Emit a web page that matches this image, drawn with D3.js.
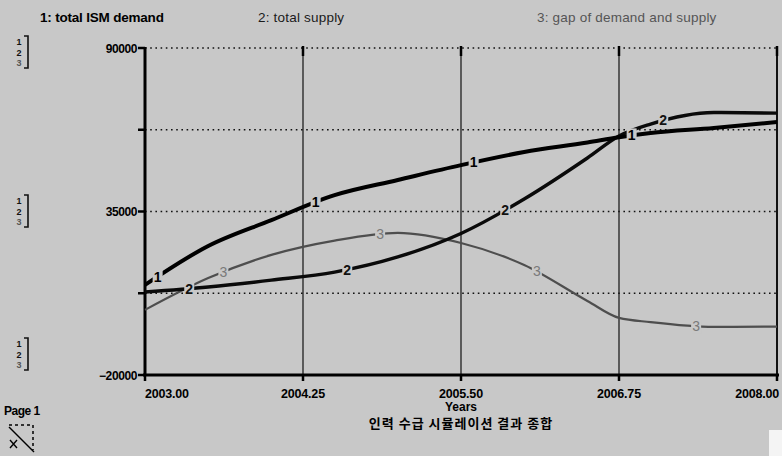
<!DOCTYPE html>
<html lang="en">
<head>
    <meta charset="UTF-8">
    <title>ISM demand and supply</title>
    <script src="https://d3js.org/d3.v7.min.js"></script>
    <style>
        body {
            margin: 0;
            background-color: #c8c8c8;
        }
        svg {
            display: block;
            font-family: "Liberation Sans", Arial, sans-serif;
        }
    </style>
</head>
<body>
    <svg id="chart" width="782" height="456"></svg>

    <script>
        // values
        const years = [2003, 2003.5, 2004, 2004.5, 2005, 2005.5, 2006, 2006.5, 2006.75, 2007, 2007.5, 2008];
        const demand = [10300, 23400, 32100, 40500, 45600, 50600, 55000, 58200, 60000, 61400, 63100, 65100];
        const supply = [7900, 9600, 11900, 14600, 19700, 27600, 39200, 53000, 60400, 64400, 68300, 68100];
        const gap = [1900, 12600, 20400, 25200, 27800, 24400, 17000, 4900, -800, -2200, -3800, -3700];

        const seriesNames = ["1: total ISM  demand", "2: total supply", "3: gap of demand and supply"];
        const xTicks = [2003, 2004.25, 2005.5, 2006.75, 2008];
        const yLabelTicks = [90000, 35000, -20000];
        const yGridTicks = [90000, 62500, 35000, 7500];
        // where the little series numbers sit along each line
        const labelYears = [
            [2003.1, 2004.35, 2005.6, 2006.85],
            [2003.35, 2004.6, 2005.85, 2007.1],
            [2003.62, 2004.86, 2006.1, 2007.36]
        ];

        const bg = "#c8c8c8";
        const svg = d3.select("#chart");
        svg.append("rect").attr("width", 782).attr("height", 456).attr("fill", bg);

        const x = d3.scaleLinear().domain([2003, 2008]).range([145, 777]);
        const y = d3.scaleLinear().domain([-20000, 90000]).range([375, 48]);

        // header
        const headX = [40, 258, 537];
        const headCol = ["#000", "#1a1a1a", "#555"];
        svg.selectAll(".head")
            .data(seriesNames)
            .enter()
            .append("text")
            .attr("x", (d, i) => headX[i])
            .attr("y", 22)
            .attr("font-size", 13.5)
            .attr("font-weight", (d, i) => i === 0 ? "bold" : "normal")
            .attr("letter-spacing", (d, i) => i === 0 ? -0.2 : 0.2)
            .attr("fill", (d, i) => headCol[i])
            .text(d => d);

        // scale brackets at the left
        [48, 207, 350].forEach(cy => {
            const g = svg.append("g").attr("transform", `translate(0,${cy})`);
            ["1", "2", "3"].forEach((n, k) => {
                g.append("text")
                    .attr("x", 19).attr("y", -7 + k * 10.5 + 4)
                    .attr("text-anchor", "middle")
                    .attr("font-size", 9).attr("font-weight", "bold")
                    .attr("fill", k === 2 ? "#555" : "#111")
                    .text(n);
            });
            g.append("path")
                .attr("d", "M24,-12 H28 V20 H24")
                .attr("fill", "none").attr("stroke", "#111").attr("stroke-width", 1.6);
        });

        // dotted horizontal grid
        svg.selectAll(".hgrid")
            .data(yGridTicks)
            .enter()
            .append("line")
            .attr("x1", x(2003)).attr("x2", x(2008))
            .attr("y1", d => y(d)).attr("y2", d => y(d))
            .attr("stroke", "#111").attr("stroke-width", 1.6)
            .attr("stroke-dasharray", "1.6,3.6");

        // vertical grid lines
        svg.selectAll(".vgrid")
            .data(xTicks.slice(1))
            .enter()
            .append("line")
            .attr("x1", d => x(d)).attr("x2", d => x(d))
            .attr("y1", y(90000)).attr("y2", y(-20000))
            .attr("stroke", "#111")
            .attr("stroke-width", d => d === 2008 ? 2 : 1.2);
        svg.selectAll(".vtop")
            .data(xTicks.slice(1))
            .enter()
            .append("line")
            .attr("x1", d => x(d)).attr("x2", d => x(d))
            .attr("y1", y(90000) - 2).attr("y2", y(90000) + 8)
            .attr("stroke", "#000").attr("stroke-width", 2.5);

        // axes
        svg.append("line")
            .attr("x1", x(2003)).attr("x2", x(2003))
            .attr("y1", y(90000) - 1).attr("y2", y(-20000) + 1)
            .attr("stroke", "#000").attr("stroke-width", 3);
        svg.append("line")
            .attr("x1", x(2003) - 2).attr("x2", x(2008) + 2)
            .attr("y1", y(-20000)).attr("y2", y(-20000))
            .attr("stroke", "#000").attr("stroke-width", 3);

        svg.selectAll(".ytick")
            .data([90000, 62500, 35000, 7500, -20000])
            .enter()
            .append("line")
            .attr("x1", x(2003) - 7).attr("x2", x(2003))
            .attr("y1", d => y(d)).attr("y2", d => y(d))
            .attr("stroke", "#000").attr("stroke-width", 2.5);
        svg.selectAll(".xtick")
            .data(xTicks)
            .enter()
            .append("line")
            .attr("x1", d => x(d)).attr("x2", d => x(d))
            .attr("y1", y(-20000)).attr("y2", y(-20000) + 6)
            .attr("stroke", "#000").attr("stroke-width", 2.5);

        svg.selectAll(".ylab")
            .data(yLabelTicks)
            .enter()
            .append("text")
            .attr("x", 137)
            .attr("y", d => y(d) + 4.5)
            .attr("text-anchor", "end")
            .attr("font-size", 12).attr("font-weight", "bold")
            .attr("letter-spacing", -0.4)
            .text(d => d3.format("d")(d));

        svg.selectAll(".xlab")
            .data(xTicks)
            .enter()
            .append("text")
            .attr("x", (d, i) => i === 0 ? x(d) : i === xTicks.length - 1 ? x(d) + 2 : x(d))
            .attr("y", 398)
            .attr("text-anchor", (d, i) => i === 0 ? "start" : i === xTicks.length - 1 ? "end" : "middle")
            .attr("font-size", 12.5).attr("font-weight", "bold")
            .attr("letter-spacing", -0.2)
            .text(d => d.toFixed(2));

        svg.append("text")
            .attr("x", x(2005.5)).attr("y", 411)
            .attr("text-anchor", "middle")
            .attr("font-size", 12).attr("font-weight", "bold")
            .text("Years");
        svg.append("text")
            .attr("x", x(2005.5)).attr("y", 428)
            .attr("text-anchor", "middle")
            .attr("font-family", "'Noto Sans CJK KR', sans-serif")
            .attr("font-size", 13).attr("font-weight", "bold")
            .attr("letter-spacing", 1)
            .text("인력 수급 시뮬레이션 결과 종합");

        // series lines
        const lineGen = d3.line()
            .x(d => x(d[0]))
            .y(d => y(d[1]))
            .curve(d3.curveMonotoneX);

        const series = [demand, supply, gap];
        const lineCol = ["#000", "#0a0a0a", "#4e4e4e"];
        const lineW = [4, 3.4, 2.2];
        const numCol = ["#000", "#111", "#7a7a7a"];

        // draw from last to first so demand ends on top
        [2, 1, 0].forEach(s => {
            const pts = years.map((yr, i) => [yr, series[s][i]]);
            const path = svg.append("path")
                .attr("d", lineGen(pts))
                .attr("fill", "none")
                .attr("stroke", lineCol[s])
                .attr("stroke-width", lineW[s])
                .attr("stroke-linejoin", "round");

            const node = path.node();
            const total = node.getTotalLength();
            labelYears[s].forEach(ly => {
                const tx = x(ly);
                let lo = 0, hi = total;
                for (let k = 0; k < 30; k++) {
                    const mid = (lo + hi) / 2;
                    if (node.getPointAtLength(mid).x < tx) lo = mid; else hi = mid;
                }
                const p = node.getPointAtLength(lo);
                svg.append("rect")
                    .attr("x", p.x - 5).attr("y", p.y - 7)
                    .attr("width", 10).attr("height", 14)
                    .attr("fill", bg);
                svg.append("text")
                    .attr("x", p.x).attr("y", p.y + 5)
                    .attr("text-anchor", "middle")
                    .attr("font-size", 14)
                    .attr("font-weight", s === 2 ? "normal" : "bold")
                    .attr("fill", numCol[s])
                    .text(String(s + 1));
            });
        });

        // page footer
        svg.append("text")
            .attr("x", 4).attr("y", 415)
            .attr("font-size", 12).attr("font-weight", "bold")
            .attr("letter-spacing", -0.5)
            .text("Page 1");
        svg.append("path")
            .attr("d", "M9,425 H33 V450")
            .attr("fill", "none").attr("stroke", "#000").attr("stroke-width", 1.5)
            .attr("stroke-dasharray", "3,3");
        svg.append("line")
            .attr("x1", 9).attr("y1", 427).attr("x2", 34).attr("y2", 452)
            .attr("stroke", "#000").attr("stroke-width", 1.5);
        svg.append("path")
            .attr("d", "M10,440 L17,448 M17,440 L10,448")
            .attr("stroke", "#000").attr("stroke-width", 1.4);

        // white corner at bottom right
        svg.append("rect")
            .attr("x", 769).attr("y", 430).attr("width", 13).attr("height", 26)
            .attr("fill", "#f4f4f4");
    </script>
</body>
</html>
